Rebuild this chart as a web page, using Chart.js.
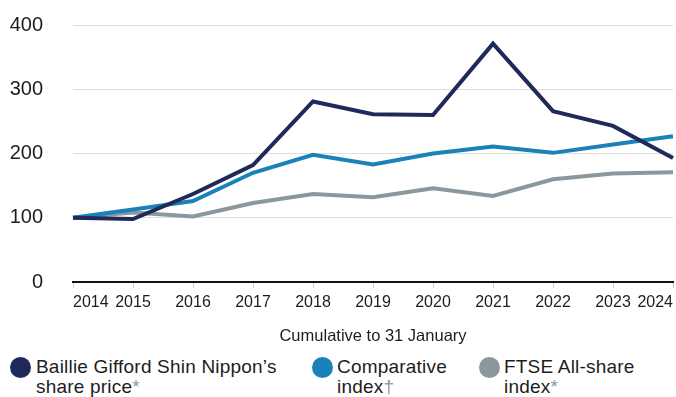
<!DOCTYPE html>
<html>
<head>
<meta charset="utf-8">
<script src="https://cdn.jsdelivr.net/npm/chart.js@4"></script>
<style>
    body { margin: 0; background: #fff; font-family: "Liberation Sans", Arial, sans-serif; }
    #wrap { position: relative; width: 676px; height: 397px; overflow: hidden; }
    #myChart { position: absolute; left: 0; top: 0; }
    .dot { position: absolute; width: 21px; height: 21px; border-radius: 50%; top: 357px; }
    .item { position: absolute; top: 357px; font-size: 19px; line-height: 20px; color: #1d1d1d; letter-spacing: 0.2px; }
    .mark { color: #8a979c; }
</style>
</head>
<body>
<div id="wrap">
    <canvas id="myChart" width="676" height="350"></canvas>
    <div class="dot" style="left:10px; background:#1f2a5a;"></div>
    <div class="item" style="left:36px;">Baillie Gifford Shin Nippon’s<br>share price<span class="mark">*</span></div>
    <div class="dot" style="left:312px; background:#1b82b9;"></div>
    <div class="item" style="left:337px;">Comparative<br>index<span class="mark">†</span></div>
    <div class="dot" style="left:479px; background:#8a989e;"></div>
    <div class="item" style="left:504px;">FTSE All-share<br>index<span class="mark">*</span></div>
</div>
<script>
const years = ['2014', '2015', '2016', '2017', '2018', '2019', '2020', '2021', '2022', '2023', '2024'];
const shinNippon = [100, 98, 137, 182, 281, 261, 260, 371, 266, 243, 193];
const comparative = [100, 113, 126, 170, 198, 183, 200, 211, 201, 214, 227];
const ftseAllShare = [100, 108, 102, 123, 137, 132, 146, 134, 160, 169, 171];
const yTicks = [0, 100, 200, 300, 400];

const seriesColors = ['#1f2a5a', '#1b82b9', '#8a989e'];

// Year labels: first one hangs right of its tick, last one left, the rest centred
const yearLabels = {
    id: 'yearLabels',
    afterDraw(chart) {
        const xs = chart.scales.x;
        const ctx = chart.ctx;
        ctx.save();
        ctx.font = '16px "Liberation Sans", Arial, sans-serif';
        ctx.fillStyle = '#1d1d1d';
        ctx.textBaseline = 'middle';
        years.forEach((label, i) => {
            const x = xs.getPixelForTick(i);
            ctx.textAlign = i === 0 ? 'left' : (i === years.length - 1 ? 'right' : 'center');
            ctx.fillText(label, x, xs.top + 21);
        });
        ctx.restore();
    }
};

function makeLine(label, data, color, order) {
    return {
        label: label,
        data: data,
        borderColor: color,
        backgroundColor: color,
        borderWidth: 4,
        pointRadius: 0,
        tension: 0,
        fill: false,
        order: order
    };
}

const ctx = document.getElementById('myChart').getContext('2d');
new Chart(ctx, {
    type: 'line',
    data: {
        labels: years,
        datasets: [
            makeLine('Baillie Gifford Shin Nippon’s share price', shinNippon, seriesColors[0], 0),
            makeLine('Comparative index', comparative, seriesColors[1], 1),
            makeLine('FTSE All-share index', ftseAllShare, seriesColors[2], 2)
        ]
    },
    options: {
        responsive: false,
        animation: false,
        layout: { padding: { top: 25, right: 3, left: 0, bottom: 0 } },
        plugins: {
            legend: { display: false },
            tooltip: { enabled: false }
        },
        scales: {
            x: {
                type: 'category',
                offset: false,
                afterFit: s => { s.height = 68; },
                grid: {
                    display: true,
                    drawOnChartArea: false,
                    drawTicks: true,
                    tickLength: 6,
                    color: '#cfcfcf',
                    lineWidth: 1
                },
                border: { display: true, color: '#111111', width: 2 },
                ticks: { display: false },
                title: {
                    display: true,
                    text: 'Cumulative to 31 January',
                    color: '#1d1d1d',
                    font: { family: '"Liberation Sans", Arial, sans-serif', size: 16.5 },
                    padding: { top: 0, bottom: 4 }
                }
            },
            y: {
                min: 0,
                max: 400,
                // tick padding is only meant to push labels left, not to reserve space above/below
                afterFit: s => { s.width = 73; s.paddingTop = 12; s.paddingBottom = 12; },
                afterBuildTicks: s => { s.ticks = yTicks.map(v => ({ value: v })); },
                grid: {
                    drawTicks: false,
                    color: c => (c.tick && c.tick.value === 0 ? 'rgba(0,0,0,0)' : '#dedede'),
                    lineWidth: 1
                },
                border: { display: false },
                ticks: {
                    padding: 30,
                    color: '#1d1d1d',
                    font: { family: '"Liberation Sans", Arial, sans-serif', size: 20 }
                }
            }
        }
    },
    plugins: [yearLabels]
});
</script>
</body>
</html>
